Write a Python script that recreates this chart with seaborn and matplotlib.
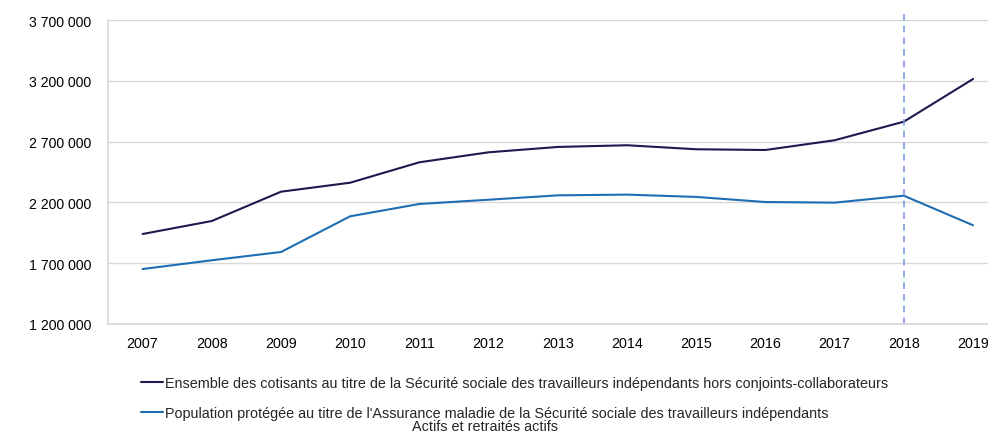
# Cotisants et population protégée - travailleurs indépendants

import pandas as pd
import numpy as np
import matplotlib
matplotlib.use("Agg")
import matplotlib.pyplot as plt
from matplotlib.ticker import FuncFormatter
import seaborn as sns

# Data
years = ["2007", "2008", "2009", "2010", "2011", "2012", "2013",
         "2014", "2015", "2016", "2017", "2018", "2019"]
cotisants = [1940000, 2047000, 2288000, 2362000, 2530000, 2612000, 2656000,
             2670000, 2637000, 2631000, 2711000, 2864000, 3215000]
population = [1652000, 1724000, 1792000, 2086000, 2187000, 2222000, 2258000,
              2264000, 2245000, 2203000, 2198000, 2255000, 2012000]

label_cot = ("Ensemble des cotisants au titre de la Sécurité sociale des "
             "travailleurs indépendants hors conjoints-collaborateurs")
label_pop = ("Population protégée au titre de l'Assurance maladie de la "
             "Sécurité sociale des travailleurs indépendants")
label_pop_sub = "Actifs et retraités actifs"
y_ticks = [1200000, 1700000, 2200000, 2700000, 3200000, 3700000]
marker_year = "2018"

# Long-form table
df = pd.DataFrame({
    "Année": years * 2,
    "Valeur": cotisants + population,
    "Série": [label_cot] * len(years) + [label_pop] * len(years),
})
df["x"] = df["Année"].map({y: i for i, y in enumerate(years)})

sns.set_theme(style="white")
plt.rcParams["font.family"] = ["Liberation Sans", "DejaVu Sans"]

fig = plt.figure(figsize=(9.88, 4.35), dpi=100)
ax = fig.add_axes([0.1093, 0.2529, 0.9106, 0.6988])

palette = {label_cot: "#1c1a4e", label_pop: "#1f6db3"}
sns.lineplot(data=df, x="x", y="Valeur", hue="Série", palette=palette,
             linewidth=1.5, ax=ax, legend=True)

# Axes styling
ax.set_xlim(-0.5, len(years) - 0.5)
ax.set_ylim(y_ticks[0], y_ticks[-1])
ax.set_yticks(y_ticks)
ax.yaxis.set_major_formatter(FuncFormatter(lambda v, p: f"{int(v):,}".replace(",", " ")))
ax.set_xticks(range(len(years)))
ax.set_xticklabels(years)
ax.set_xticks(np.arange(-0.5, len(years), 1), minor=True)
ax.tick_params(axis="x", which="major", length=0, pad=9, labelsize=10.3, colors="#000000")
ax.tick_params(axis="x", which="minor", length=5, width=1, color="#d9d9d9")
ax.tick_params(axis="y", length=0, pad=12, labelsize=10.2, colors="#000000")
ax.set_xlabel("")
ax.set_ylabel("")
ax.grid(axis="y", color="#d9d9d9", linewidth=1)
for s in ["top", "right"]:
    ax.spines[s].set_visible(False)
ax.spines["left"].set_color("#d9d9d9")
ax.spines["bottom"].set_color("#d9d9d9")

# Vertical dashed marker at 2018
xm = years.index(marker_year)
ax.plot([xm, xm], [y_ticks[0], y_ticks[-1] + 65000], color="#7b9be0",
        linestyle=(0, (4, 3)), linewidth=1.2, clip_on=False)

# Legend below the plot
handles, labels = ax.get_legend_handles_labels()
ax.legend_.remove()
fig.legend(handles, labels, loc="upper left", bbox_to_anchor=(0.143, 0.134),
           frameon=False, fontsize=10.4, handlelength=1.5, handletextpad=0.15,
           labelspacing=1.1, borderaxespad=0, borderpad=0)
fig.text(0.491, 0.002, label_pop_sub, ha="center", va="bottom", fontsize=10.4)

plt.savefig("out.png", dpi=100)
